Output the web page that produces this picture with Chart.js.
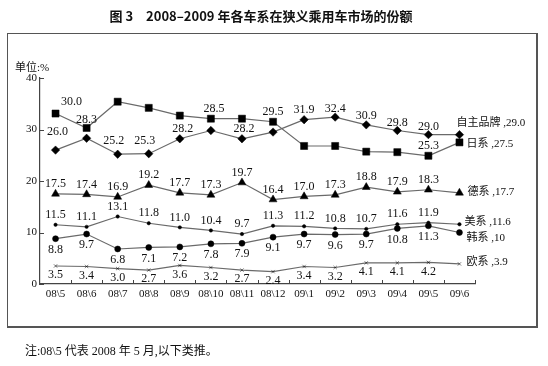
<!DOCTYPE html>
<html>
<head>
<meta charset="utf-8">
<script src="https://cdn.jsdelivr.net/npm/chart.js@4.4.0/dist/chart.umd.min.js"></script>
<style>
  body { margin: 0; background: #fff; }
  #wrap { position: relative; width: 548px; height: 366px; overflow: hidden; }
  #c { position: absolute; left: 0; top: 0; }
  .frame { position: absolute; left: 7px; top: 33px; width: 528px; height: 292px;
           border: 1px solid #555; border-right-width: 2px; border-bottom-width: 2px; }
  .title { position: absolute; left: 0; width: 522px; top: 6px; text-align: center;
           font: bold 13px "Noto Sans CJK SC", sans-serif; color: #111; }
  .unit { position: absolute; left: 15px; top: 58px; font: 11px "Liberation Serif", "Noto Sans CJK SC", serif; color: #111; }
  .note { position: absolute; left: 25px; top: 341px; font: 12px "Liberation Serif", "Noto Sans CJK SC", serif; color: #111; }
</style>
</head>
<body>
<div id="wrap">
  <canvas id="c" width="548" height="366"></canvas>
  <div class="frame"></div>
  <div class="title">图 3　2008–2009 年各车系在狭义乘用车市场的份额</div>
  <div class="unit">单位:%</div>
  <div class="note">注:08\5 代表 2008 年 5 月,以下类推。</div>
</div>
<script>
// months, 08\5 = May 2008
var months = ['08\\5', '08\\6', '08\\7', '08\\8', '08\\9', '08\\10', '08\\11', '08\\12',
              '09\\1', '09\\2', '09\\3', '09\\4', '09\\5', '09\\6'];

var seriesNames = ['自主品牌', '日系', '德系', '美系', '韩系', '欧系'];

var ziZhu = [26.0, 28.3, 25.2, 25.3, 28.2, 29.8, 28.2, 29.5, 31.9, 32.4, 30.9, 29.8, 29.0, 29.0];
var riXi  = [33.1, 30.3, 35.4, 34.2, 32.7, 32.1, 32.1, 31.5, 26.8, 26.8, 25.7, 25.6, 24.9, 27.5];
var deXi  = [17.5, 17.4, 16.9, 19.2, 17.7, 17.3, 19.7, 16.4, 17.0, 17.3, 18.8, 17.9, 18.3, 17.7];
var meiXi = [11.5, 11.1, 13.1, 11.8, 11.0, 10.4, 9.7, 11.3, 11.2, 10.8, 10.7, 11.6, 11.9, 11.6];
var hanXi = [8.8, 9.7, 6.8, 7.1, 7.2, 7.8, 7.9, 9.1, 9.7, 9.6, 9.7, 10.8, 11.3, 10.0];
var ouXi  = [3.5, 3.4, 3.0, 2.7, 3.6, 3.2, 2.7, 2.4, 3.4, 3.2, 4.1, 4.1, 4.2, 3.9];

// numbers as printed in the picture (the 日系 ones sit where the original put them)
var ziZhuLabels = ['26.0', '28.3', '25.2', '25.3', '28.2', null, '28.2', null, '31.9', '32.4', '30.9', '29.8', '29.0', null];
var riXiLabels  = ['30.0', null, null, null, null, '28.5', null, '29.5', null, null, null, null, '25.3', null];
var endLabels   = ['29.0', '27.5', '17.7', '11.6', '10', '3.9'];

var yTicks = [0, 10, 20, 30, 40];

function fmt(arr) {
  return arr.map(function (v, i) { return i < arr.length - 1 ? v.toFixed(1) : null; });
}
var pointLabels = [ziZhuLabels, riXiLabels, fmt(deXi), fmt(meiXi), fmt(hanXi), fmt(ouXi)];

// label offsets from the point (px)
var labelDy = [
  [-18, -18, -13, -13, -10, 0, -10, 0, -10, -8, -9, -8, -8],
  [-12, 0, 0, 0, 0, -10, 0, -10, 0, 0, 0, 0, -10],
  -10, -10, 11, 9
];
var labelDx = [
  [2, 0, -4, -4, 3, 0, 2, 0, 0, 0, 0, 0, 0],
  [16, 0, 0, 0, 0, 3, 0, 0, 0, 0, 0, 0, 0],
  0, 0, 0, 0
];
var endOff = [[-3, -12], [7, 2], [8, -1], [5, -2], [7, 6], [7, -2]];

var labelPlugin = {
  id: 'labels',
  afterDraw: function (chart) {
    var ctx = chart.ctx;
    var xs = chart.scales.x, ys = chart.scales.y;
    var area = chart.chartArea;
    ctx.save();
    // inward tick marks
    ctx.strokeStyle = '#444';
    ctx.lineWidth = 1;
    ctx.beginPath();
    yTicks.forEach(function (t) {
      var py = Math.round(ys.getPixelForValue(t)) + 0.5;
      ctx.moveTo(area.left, py); ctx.lineTo(area.left + 4, py);
    });
    var step = xs.getPixelForValue(1) - xs.getPixelForValue(0);
    for (var i = 1; i <= months.length; i++) {
      var px = Math.round(xs.getPixelForValue(i - 1) + step / 2) + 0.5;
      ctx.moveTo(px, area.bottom); ctx.lineTo(px, area.bottom - 4);
    }
    ctx.stroke();

    ctx.fillStyle = '#111';
    chart.data.datasets.forEach(function (ds, d) {
      var meta = chart.getDatasetMeta(d);
      ctx.font = '12px "Liberation Serif", serif';
      ctx.textAlign = 'center';
      ctx.textBaseline = 'middle';
      pointLabels[d].forEach(function (txt, i) {
        if (!txt) return;
        var p = meta.data[i];
        var dy = Array.isArray(labelDy[d]) ? labelDy[d][i] : labelDy[d];
        var dx = Array.isArray(labelDx[d]) ? labelDx[d][i] : labelDx[d];
        ctx.fillText(txt, p.x + dx, p.y + dy);
      });
      var last = meta.data[meta.data.length - 1];
      ctx.font = '11px "Liberation Serif", "Noto Sans CJK SC", serif';
      ctx.textAlign = 'left';
      ctx.fillText(seriesNames[d] + ' ,' + endLabels[d], last.x + endOff[d][0], last.y + endOff[d][1]);
    });
    ctx.restore();
  }
};

function series(label, data, style, radius) {
  return {
    label: label, data: data,
    borderColor: '#6a6a6a', borderWidth: 1.2,
    pointStyle: style, pointRadius: radius,
    pointBackgroundColor: '#000', pointBorderColor: '#000', pointBorderWidth: 0.5,
    tension: 0, clip: false
  };
}

new Chart(document.getElementById('c'), {
  type: 'line',
  data: {
    labels: months,
    datasets: [
      series(seriesNames[0], ziZhu, 'rectRot', 4.2),
      series(seriesNames[1], riXi, 'rect', 5.0),
      series(seriesNames[2], deXi, 'triangle', 4.6),
      series(seriesNames[3], meiXi, 'circle', 1.7),
      series(seriesNames[4], hanXi, 'circle', 3.0),
      series(seriesNames[5], ouXi, 'crossRot', 2.4)
    ]
  },
  options: {
    responsive: false,
    animation: false,
    layout: { padding: { left: 0, right: 73, top: 78, bottom: 62 } },
    plugins: { legend: { display: false }, tooltip: { enabled: false } },
    scales: {
      x: {
        offset: true,
        grid: { display: false, drawTicks: false },
        border: { display: true, color: '#444', width: 1.2 },
        ticks: { color: '#111', font: { family: '"Liberation Serif", serif', size: 11 }, padding: 4, maxRotation: 0, autoSkip: false },
        afterFit: function (s) { s.height = 20; }
      },
      y: {
        min: 0, max: 40,
        afterBuildTicks: function (s) { s.ticks = yTicks.map(function (v) { return { value: v }; }); },
        grid: { display: false, drawTicks: false },
        border: { display: true, color: '#444', width: 1.2 },
        ticks: { color: '#111', font: { family: '"Liberation Serif", serif', size: 11 }, padding: 3 },
        afterFit: function (s) { s.width = 40; }
      }
    }
  },
  plugins: [labelPlugin]
});
</script>
</body>
</html>
